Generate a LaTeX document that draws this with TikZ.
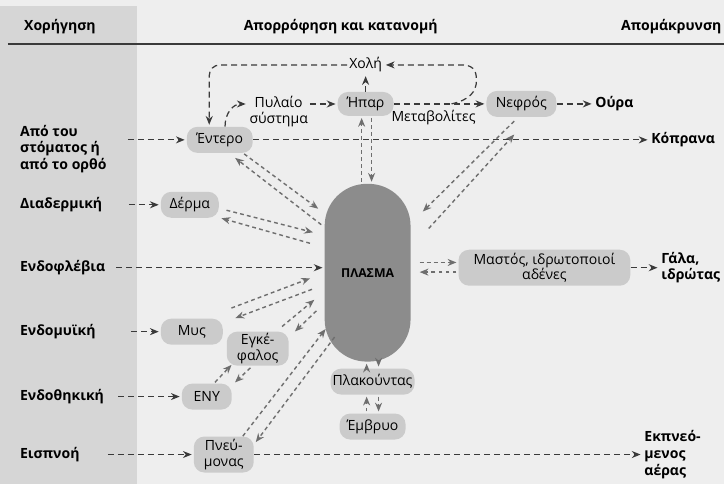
\documentclass[tikz,border=0pt]{standalone}
\usepackage{fontspec}
\setmainfont{Open Sans}
\usetikzlibrary{arrows.meta}
\usetikzlibrary{calc,positioning}

\definecolor{bgpage}{HTML}{EEEEEE}
\definecolor{bgside}{HTML}{D6D6D6}
\definecolor{organfill}{HTML}{CBCBCB}
\definecolor{plasmafill}{HTML}{8C8C8C}
\definecolor{inkline}{HTML}{3A3A3A}
\definecolor{exgray}{HTML}{6E6E6E}

\begin{document}
\begin{tikzpicture}[x=0.02cm, y=-0.02cm,
  every node/.style={font=\fontsize{8}{9}\selectfont, inner sep=1pt},
  organ/.style={fill=organfill, rounded corners=6pt, minimum height=0.52cm, align=center},
  lbl/.style={font=\fontsize{8}{9.5}\selectfont\bfseries, align=left, anchor=west},
  dashline/.style={draw=inkline, line width=0.7pt, dash pattern=on 3.4pt off 2.3pt,
    -{Stealth[length=5pt,width=4pt]}, shorten >=1pt},
  exchline/.style={draw=exgray, line width=0.8pt, dash pattern=on 2.2pt off 1.8pt,
    -{Stealth[length=5pt,width=4pt]}, shorten <=1pt, shorten >=1pt}]

    % draw background
    \fill[bgpage] (0,0) rectangle (725,485);
    \fill[bgside] (0,6) rectangle (137,485);
    \draw[inkline, line width=0.9pt] (8,44) -- (725,44);
    \useasboundingbox (0,0) rectangle (725,485);

    % headings
    \node[lbl, anchor=center] (hdose) at (60,27) {Χορήγηση};
    \node[lbl, anchor=center] (hdist) at (341,27) {Απορρόφηση και κατανομή};
    \node[lbl, anchor=center] (helim) at (672,27) {Απομάκρυνση};

    % routes
    \node[lbl] (stoma) at (18,149) {Από του\\στόματος ή\\από το ορθό};
    \node[lbl] (diaderm) at (18,205) {Διαδερμική};
    \node[lbl] (endofl) at (18,268) {Ενδοφλέβια};
    \node[lbl] (endomy) at (18,332) {Ενδομυϊκή};
    \node[lbl] (endothik) at (18,397) {Ενδοθηκική};
    \node[lbl] (eispnoi) at (18,455) {Εισπνοή};

    % organs
    \node[organ, minimum width=1.32cm] (entero) at (220,140) {Έντερο};
    \node[organ, minimum width=1.16cm] (derma) at (190,205) {Δέρμα};
    \node[organ, minimum width=1.24cm] (mys) at (192,332) {Μυς};
    \node[organ, minimum width=1.24cm, minimum height=0.68cm] (enkef) at (258,349) {Εγκέ-\\φαλος};
    \node[organ, minimum width=1.0cm] (eny) at (207,397) {ΕΝΥ};
    \node[organ, minimum width=1.2cm, minimum height=0.72cm] (pneum) at (224,455) {Πνεύ-\\μονας};
    \node[organ, minimum width=1.12cm, minimum height=0.48cm] (ipar) at (366,104) {Ήπαρ};
    \node[organ, minimum width=1.4cm] (nefros) at (522,104) {Νεφρός};
    \node[organ, minimum width=3.44cm, minimum height=0.72cm] (mastos) at (545,268) {Μαστός, ιδρωτοποιοί\\αδένες};
    \node[organ, minimum width=1.68cm] (plak) at (373,382) {Πλακούντας};
    \node[organ, minimum width=1.32cm] (embryo) at (373,427) {Έμβρυο};
    \node[fill=plasmafill, rounded corners=24pt, minimum width=1.72cm, minimum height=3.56cm,
      font=\fontsize{7}{8}\selectfont\bfseries] (plasma) at (368,273) {ΠΛΑΣΜΑ};

    % outputs
    \node (choli) at (366,65) {Χολή};
    \node[align=center] (pylaio) at (279,112) {Πυλαίο\\σύστημα};
    \node (metab) at (434,118) {Μεταβολίτες};
    \node[lbl] (oura) at (594,104) {Ούρα};
    \node[lbl] (kopr) at (650,140) {Κόπρανα};
    \node[lbl] (gala) at (660,268) {Γάλα,\\ιδρώτας};
    \node[lbl] (ekpn) at (643,455) {Εκπνεό-\\μενος\\αέρας};

    % draw routes of administration
    \draw[dashline, shorten <=11pt] (stoma.east |- entero) -- (entero);
    \draw[dashline, shorten <=14pt] (diaderm) -- (derma);
    \draw[dashline, shorten <=5pt] (endofl) -- (endofl -| plasma.west);
    \draw[dashline, shorten <=19pt] (endomy) -- (mys);
    \draw[dashline, shorten <=7pt] (endothik) -- (eny);
    \draw[dashline, shorten <=15pt] (eispnoi) -- (pneum);

    % draw liver, bile and elimination
    \draw[dashline] ([xshift=3pt]entero.north) .. controls +(0,-14) and +(-14,0) .. ([yshift=4.5pt]pylaio.west);
    \draw[dashline] ([yshift=4.5pt]pylaio.east) -- ([yshift=4.5pt]pylaio.east -| ipar.west);
    \draw[dashline] (ipar) -- (choli);
    \draw[dashline, rounded corners=6pt] (choli.west) -| ([xshift=-6pt]entero.north);
    \draw[dashline] (ipar) -- (nefros);
    \coordinate (split) at (452,104);
    \draw[dashline] (split) .. controls (470,100) and (477,92) .. (477,80)
      .. controls (477,69) and (472,65) .. (462,65) -- (choli.east);
    \draw[dashline] (nefros) -- (oura);
    \draw[dashline] (entero) -- (kopr);
    \draw[dashline] (mastos) -- (gala);
    \draw[dashline] (pneum) -- (ekpn);

    % draw exchange with plasma
    \draw[exchline] ([xshift=-3.4pt]plasma.north) -- ([xshift=-3.4pt]plasma.north |- ipar.south);
    \draw[exchline] ([xshift=3.4pt]ipar.south) -- ([xshift=3.4pt]ipar.south |- plasma.north);
    \draw[exchline] ([shift={(-6,16)}]nefros.center) -- ([shift={(54,-60)}]plasma.center);
    \draw[exchline] ([shift={(60,-43)}]plasma.center) -- ([shift={(-6,16)}]nefros.south);
    \draw[exchline] ([shift={(23,13)}]entero.center) -- ([shift={(-48,-63)}]plasma.center);
    \draw[exchline] ([shift={(-45,-47)}]plasma.center) -- ([shift={(14,17)}]entero.center);
    \draw[exchline] ([shift={(35,5)}]derma.center) -- ([shift={(-53,-40)}]plasma.center);
    \draw[exchline] ([shift={(-56,-29)}]plasma.center) -- ([shift={(30,13)}]derma.center);
    \draw[exchline] ([shift={(38,-23)}]mys.center) -- ([shift={(-56,5)}]plasma.center);
    \draw[exchline] ([shift={(-54,16)}]plasma.center) -- ([shift={(42,-13)}]mys.center);
    \draw[exchline] ([shift={(23,-21)}]enkef.center) -- ([shift={(-52,26)}]plasma.center);
    \draw[exchline] ([shift={(-50,37)}]plasma.center) -- ([shift={(36,-16)}]enkef.center);
    \draw[exchline] ([shift={(18,-17)}]pneum.center) -- ([shift={(-41,55)}]plasma.center);
    \draw[exchline] ([shift={(-32,63)}]plasma.center) -- ([shift={(31,-11)}]pneum.center);
    \draw[exchline] ([shift={(7,-13)}]eny.center) -- ([shift={(-25,15)}]enkef.center);
    \draw[exchline] ([shift={(-6,18)}]enkef.center) -- ([shift={(27,-13)}]eny.center);
    \draw[exchline, shorten <=5pt] ([yshift=3pt]mastos.west -| plasma.east) -- ([yshift=3pt]mastos.west);
    \draw[exchline, shorten >=5pt] ([yshift=-2.5pt]mastos.west) -- ([yshift=-2.5pt]mastos.west -| plasma.east);
    \draw[exchline] ([xshift=-3.4pt]plak.north) -- ([xshift=-3.4pt]plak.north |- plasma.south);
    \draw[exchline] ([xshift=3.4pt]plak.north |- plasma.south) -- ([xshift=3.4pt]plak.north);
    \draw[exchline] ([xshift=-3.4pt]embryo.north) -- ([xshift=-3.4pt]embryo.north |- plak.south);
    \draw[exchline] ([xshift=3.4pt]plak.south) -- ([xshift=3.4pt]embryo.north);
\end{tikzpicture}
\end{document}
